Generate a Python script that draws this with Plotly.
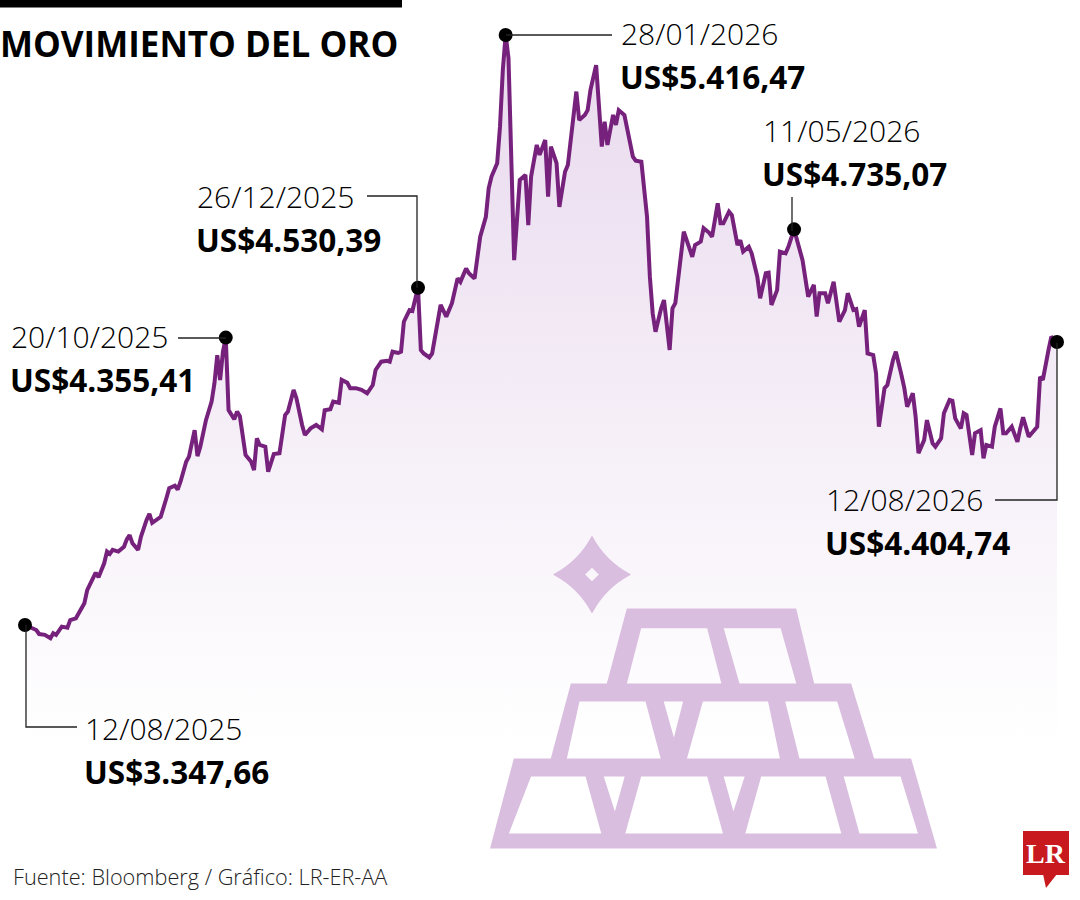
import plotly.graph_objects as go

# ---------------- data ----------------
dates = [
    "2025-08-12", "2025-08-16", "2025-08-17", "2025-08-19", "2025-08-21", "2025-08-22", "2025-08-23",
    "2025-08-25", "2025-08-27", "2025-08-28", "2025-08-30", "2025-08-31", "2025-09-02", "2025-09-03",
    "2025-09-05", "2025-09-06", "2025-09-07", "2025-09-09", "2025-09-10", "2025-09-11", "2025-09-12",
    "2025-09-14", "2025-09-16", "2025-09-17", "2025-09-18", "2025-09-19", "2025-09-21", "2025-09-22",
    "2025-09-24", "2025-09-25", "2025-09-26", "2025-09-28", "2025-09-29", "2025-10-01", "2025-10-02",
    "2025-10-04", "2025-10-05", "2025-10-06", "2025-10-08", "2025-10-09", "2025-10-11", "2025-10-12",
    "2025-10-13", "2025-10-15", "2025-10-16", "2025-10-17", "2025-10-18", "2025-10-19", "2025-10-20",
    "2025-10-21", "2025-10-22", "2025-10-23", "2025-10-25", "2025-10-26", "2025-10-27", "2025-10-28",
    "2025-10-29", "2025-10-31", "2025-11-01", "2025-11-02", "2025-11-03", "2025-11-05", "2025-11-06",
    "2025-11-08", "2025-11-10", "2025-11-12", "2025-11-13", "2025-11-15", "2025-11-16", "2025-11-18",
    "2025-11-19", "2025-11-21", "2025-11-23", "2025-11-25", "2025-11-26", "2025-11-28", "2025-11-29",
    "2025-12-01", "2025-12-02", "2025-12-04", "2025-12-05", "2025-12-07", "2025-12-09", "2025-12-11",
    "2025-12-13", "2025-12-14", "2025-12-16", "2025-12-18", "2025-12-19", "2025-12-20", "2025-12-22",
    "2025-12-23", "2025-12-24", "2025-12-26", "2025-12-27", "2025-12-29", "2025-12-30", "2025-12-31",
    "2026-01-02", "2026-01-03", "2026-01-05", "2026-01-06", "2026-01-08", "2026-01-09", "2026-01-10",
    "2026-01-12", "2026-01-13", "2026-01-15", "2026-01-16", "2026-01-18", "2026-01-19", "2026-01-20",
    "2026-01-22", "2026-01-23", "2026-01-24", "2026-01-26", "2026-01-27", "2026-01-28", "2026-01-29",
    "2026-01-30", "2026-02-01", "2026-02-03", "2026-02-05", "2026-02-06", "2026-02-07", "2026-02-09",
    "2026-02-10", "2026-02-12", "2026-02-13", "2026-02-14", "2026-02-16", "2026-02-17", "2026-02-19",
    "2026-02-20", "2026-02-23", "2026-02-24", "2026-02-26", "2026-02-27", "2026-02-28", "2026-03-02",
    "2026-03-04", "2026-03-05", "2026-03-06", "2026-03-08", "2026-03-09", "2026-03-10", "2026-03-12",
    "2026-03-14", "2026-03-15", "2026-03-16", "2026-03-18", "2026-03-20", "2026-03-21", "2026-03-22",
    "2026-03-23", "2026-03-25", "2026-03-26", "2026-03-28", "2026-03-29", "2026-03-30", "2026-04-01",
    "2026-04-02", "2026-04-04", "2026-04-05", "2026-04-06", "2026-04-08", "2026-04-09", "2026-04-11",
    "2026-04-12", "2026-04-14", "2026-04-15", "2026-04-16", "2026-04-18", "2026-04-19", "2026-04-21",
    "2026-04-22", "2026-04-23", "2026-04-25", "2026-04-26", "2026-04-28", "2026-04-29", "2026-05-01",
    "2026-05-02", "2026-05-03", "2026-05-05", "2026-05-06", "2026-05-08", "2026-05-09", "2026-05-11",
    "2026-05-13", "2026-05-14", "2026-05-16", "2026-05-18", "2026-05-19", "2026-05-20", "2026-05-22",
    "2026-05-23", "2026-05-25", "2026-05-26", "2026-05-27", "2026-05-29", "2026-05-30", "2026-06-01",
    "2026-06-02", "2026-06-03", "2026-06-05", "2026-06-06", "2026-06-08", "2026-06-09", "2026-06-10",
    "2026-06-12", "2026-06-13", "2026-06-15", "2026-06-16", "2026-06-18", "2026-06-19", "2026-06-20",
    "2026-06-22", "2026-06-23", "2026-06-24", "2026-06-26", "2026-06-27", "2026-06-29", "2026-06-30",
    "2026-07-02", "2026-07-03", "2026-07-05", "2026-07-06", "2026-07-07", "2026-07-09", "2026-07-10",
    "2026-07-11", "2026-07-13", "2026-07-14", "2026-07-16", "2026-07-17", "2026-07-18", "2026-07-20",
    "2026-07-21", "2026-07-23", "2026-07-24", "2026-07-25", "2026-07-27", "2026-07-29", "2026-07-30",
    "2026-07-31", "2026-08-02", "2026-08-03", "2026-08-05", "2026-08-06", "2026-08-07", "2026-08-09",
    "2026-08-10", "2026-08-12",
]

prices = [
    3347.66, 3330, 3316, 3313, 3301, 3319, 3313,
    3342, 3338, 3365, 3371, 3389, 3424, 3470,
    3511, 3531, 3515, 3564, 3605, 3597, 3611,
    3605, 3622, 3648, 3663, 3634, 3611, 3657,
    3716, 3737, 3706, 3722, 3727, 3792, 3827,
    3836, 3823, 3850, 3920, 3938, 4031, 3940,
    3973, 4066, 4096, 4131, 4195, 4294, 4207,
    4306, 4355.41, 4101, 4069, 4096, 4080, 4020,
    3944, 3920, 3891, 4002, 3979, 3973, 3885,
    3947, 3950, 4084, 4096, 4172, 4143, 4049,
    4014, 4037, 4049, 4034, 4101, 4104, 4131,
    4127, 4207, 4197, 4178, 4178, 4172, 4160,
    4189, 4242, 4271, 4274, 4271, 4306, 4302,
    4306, 4411, 4452, 4449, 4530.39, 4312, 4300,
    4286, 4300, 4417, 4470, 4429, 4452, 4476,
    4563, 4551, 4598, 4581, 4563, 4627, 4709,
    4779, 4879, 4920, 4967, 5095, 5294, 5416.47,
    5335, 4627, 4908, 4926, 4750, 4920, 5031,
    4996, 5048, 4850, 5025, 4967, 4814, 4937,
    4961, 5218, 5118, 5136, 5153, 5224, 5311,
    5025, 5112, 5031, 5136, 5101, 5153, 5136,
    5048, 4990, 4976, 4972, 4779, 4569, 4441,
    4376, 4458, 4487, 4312, 4458, 4476, 4627,
    4727, 4668, 4639, 4680, 4692, 4739, 4723,
    4709, 4826, 4756, 4756, 4797, 4785, 4680,
    4697, 4657, 4674, 4651, 4569, 4493, 4581,
    4583, 4470, 4522, 4657, 4651, 4674, 4735.07,
    4668, 4627, 4499, 4540, 4429, 4511, 4511,
    4476, 4551, 4470, 4411, 4452, 4511, 4452,
    4455, 4394, 4452, 4300, 4294, 4230, 4043,
    4178, 4189, 4277, 4306, 4224, 4178, 4113,
    4160, 4078, 3950, 3996, 4066, 3985, 3973,
    4002, 4090, 4137, 4134, 4072, 4037, 4090,
    4084, 3944, 4020, 4031, 3932, 3979, 3973,
    4043, 4107, 4020, 4020, 4043, 3990, 4037,
    4076, 4008, 4020, 4043, 4218, 4207, 4312,
    4359, 4340,
]

# highlighted points and their labels
hl_dates = ["2025-08-12", "2025-10-22", "2025-12-29", "2026-01-29", "2026-05-11", "2026-08-12"]
hl_date_labels = ["12/08/2025", "20/10/2025", "26/12/2025", "28/01/2026", "11/05/2026", "12/08/2026"]
hl_value_labels = ["US$3.347,66", "US$4.355,41", "US$4.530,39", "US$5.416,47", "US$4.735,07", "US$4.404,74"]

title = "MOVIMIENTO DEL ORO"
source = "Fuente: Bloomberg / Gráfico: LR-ER-AA"

# ---------------- layout helpers ----------------
W, H = 1080, 900
LINE = "#76217c"
LILAC = "#d9bedf"
FONT = "Open Sans"


def px(x):
    return x / W


def py(y):
    return 1 - y / H


def P(x, y):
    return f"{px(x):.5f},{py(y):.5f}"


def poly(pts):
    return "M " + " L ".join(P(x, y) for x, y in pts) + " Z"


hl_idx = [dates.index(d) for d in hl_dates]

fig = go.Figure()

fig.add_trace(go.Scatter(
    x=dates, y=prices, mode="lines",
    line=dict(color=LINE, width=4),
    fill="tozeroy",
    fillgradient=dict(type="vertical",
                      colorscale=[[0, "#ffffff"], [1, "#eadcef"]],
                      start=2944, stop=5260),
    hoverinfo="skip", showlegend=False,
))

fig.add_trace(go.Scatter(
    x=[dates[i] for i in hl_idx], y=[prices[i] for i in hl_idx], mode="markers",
    marker=dict(color="black", size=14),
    hoverinfo="skip", showlegend=False,
))

shapes = []
# top black bar
shapes.append(dict(type="rect", xref="paper", yref="paper", x0=px(0), x1=px(402), y0=py(7.5), y1=py(0),
                   fillcolor="black", line=dict(width=0), layer="above"))

# leader lines
leaders = [
    [(26, 625), (26, 727), (77, 727)],
    [(178, 338), (226, 338)],
    [(367, 196), (417, 196), (417, 288)],
    [(506, 35), (612, 35)],
    [(792, 197), (792, 231)],
    [(995, 500), (1057, 500), (1057, 343)],
]
for pts in leaders:
    path = "M " + " L ".join(P(x, y) for x, y in pts)
    shapes.append(dict(type="path", xref="paper", yref="paper", path=path,
                       line=dict(color="#222222", width=1.3), layer="above"))

# gold bars icon (outer silhouette with window holes)
outer = [(492, 847), (515, 760), (552, 760), (572, 685), (608, 685), (628, 610), (795, 610),
         (813, 685), (850, 685), (873, 760), (910, 760), (935, 847)]
windows = [
    [(640, 626.7), (708.3, 626.7), (723.3, 685), (625, 685)],
    [(721.7, 626.7), (781.7, 626.7), (798.3, 685), (738.3, 685)],
    [(578.3, 700), (646.7, 700), (662.7, 760), (565, 760)],
    [(661.7, 700), (685, 700), (674, 743.3)],
    [(701.7, 700), (769.3, 700), (781.7, 760), (685, 760)],
    [(783.3, 700), (838.3, 700), (856.7, 760), (798.3, 760)],
    [(530, 775), (586.7, 775), (603.3, 835), (506.7, 835)],
    [(601.7, 775), (626.7, 775), (615, 816.7)],
    [(640, 775), (708.3, 775), (725, 835), (623.3, 835)],
    [(721.7, 775), (746.7, 775), (733.3, 816.7)],
    [(760, 775), (826.7, 775), (843.3, 835), (743.3, 835)],
    [(841.7, 775), (901.7, 775), (920, 835), (858.3, 835)],
]
icon_path = poly(outer) + " " + " ".join(poly(list(reversed(w))) for w in windows)
shapes.append(dict(type="path", xref="paper", yref="paper", path=icon_path,
                   fillcolor=LILAC, line=dict(color=LILAC, width=3), layer="above"))

# sparkle
cx, cy, R, a, r = 592, 574.5, 37, 13, 8.3
star = (f"M {P(cx, cy - R)} Q {P(cx + a, cy - a)} {P(cx + R, cy)} "
        f"Q {P(cx + a, cy + a)} {P(cx, cy + R)} Q {P(cx - a, cy + a)} {P(cx - R, cy)} "
        f"Q {P(cx - a, cy - a)} {P(cx, cy - R)} Z "
        f"M {P(cx, cy - r)} L {P(cx - r, cy)} L {P(cx, cy + r)} L {P(cx + r, cy)} Z")
shapes.append(dict(type="path", xref="paper", yref="paper", path=star,
                   fillcolor=LILAC, line=dict(color=LILAC, width=2), layer="above"))

# LR logo
shapes.append(dict(type="rect", xref="paper", yref="paper", x0=px(1023), x1=px(1069), y0=py(875), y1=py(831),
                   fillcolor="#c8191f", line=dict(width=0), layer="above"))
shapes.append(dict(type="path", xref="paper", yref="paper",
                   path=poly([(1043, 874), (1057, 874), (1046, 888)]),
                   fillcolor="#c8191f", line=dict(width=0), layer="above"))

annotations = []


def text(x, y, s, size, weight, color="black", family=FONT):
    annotations.append(dict(xref="paper", yref="paper", x=px(x), y=py(y), text=s, showarrow=False,
                            xanchor="left", yanchor="middle", align="left", borderpad=0,
                            font=dict(family=family, size=size, color=color, weight=weight)))


text(-1, 44, title, 35, 700)

# light date on top, bold value below
label_pos = [(84, 732), (10, 340), (196, 200), (620, 37), (762, 134), (825, 503)]
for (x, y), dl, vl in zip(label_pos, hl_date_labels, hl_value_labels):
    text(x, y - 3.5, dl, 30, 300)
    text(x - 1, y + 39.5, vl, 31.5, 700)

text(12, 876, source, 21.7, 300, color="#222222")

annotations.append(dict(xref="paper", yref="paper", x=px(1046), y=py(853), text="LR", showarrow=False,
                        xanchor="center", yanchor="middle",
                        font=dict(family="Liberation Serif", size=28, color="white", weight=700)))

fig.update_layout(
    width=W, height=H,
    margin=dict(l=0, r=0, t=0, b=0),
    paper_bgcolor="white", plot_bgcolor="white",
    xaxis=dict(type="date", range=["2025-08-03 03:47", "2026-08-20 03:14"], visible=False,
               showgrid=False, zeroline=False, domain=[0, 1]),
    yaxis=dict(range=[2383.4, 5539.2], visible=False, showgrid=False, zeroline=False, domain=[0, 1]),
    shapes=shapes,
    annotations=annotations,
    showlegend=False,
)

fig.write_html("out.html", config={"displayModeBar": False},
               post_script="document.body.style.margin='0';document.body.style.overflow='hidden';")
